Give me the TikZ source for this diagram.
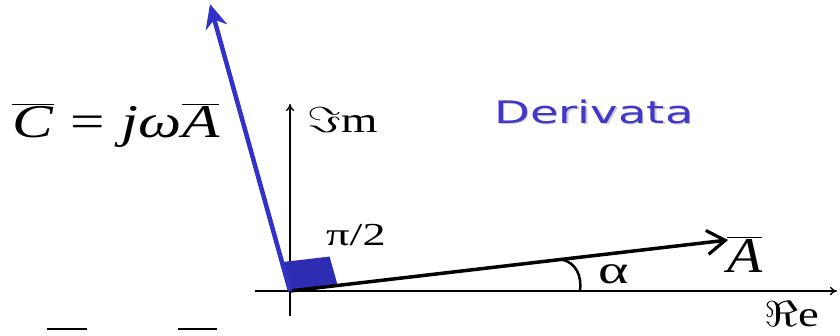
\RequirePackage{fix-cm}
\documentclass[tikz,border=0pt]{standalone}
\usepackage{fontspec}
\setmainfont{Liberation Serif}
\newfontfamily\derfont{DejaVu Sans}
\usetikzlibrary{arrows.meta,calc}
\definecolor{vblue}{RGB}{50,50,200}
\definecolor{sqblue}{RGB}{45,45,180}
\definecolor{dblue}{RGB}{65,55,200}
\newcommand{\wide}[2]{\scalebox{#1}[1]{#2}}
\tikzset{
  axis/.style={line width=1.4pt,-{To[length=7pt,width=8pt]}},
  vecA/.style={line width=3.5pt,-{Straight Barb[length=18pt,width=24pt,line width=3.2pt]}},
  vecC/.style={line width=4.5pt,vblue,-{Stealth[length=24pt,width=22pt]}},
  lbl/.style={inner sep=0pt,anchor=base west},
  frag/.style={line width=1.5pt}
}
\begin{document}
\begin{tikzpicture}[x=1pt,y=-1pt]
\useasboundingbox (0,0) rectangle (840,335);
\coordinate (O) at (290,291);
\coordinate (ReL) at (255,291);
\coordinate (ReR) at (837,291);
\coordinate (ImB) at (290,316);
\coordinate (ImT) at (290,104);
\coordinate (Atip) at (728,240);
\coordinate (Ctip) at (210,4);
% axes
\draw[axis] (ReL) -- (ReR);
\draw[axis] (ImB) -- (ImT);
% square
\coordinate (Q1) at ($(O)!48pt!(Atip)$);
\coordinate (Q3) at ($(O)!30pt!(Ctip)$);
\coordinate (Q2) at ($(Q1)+(Q3)-(O)$);
\fill[sqblue] (O) -- (Q1) -- (Q2) -- (Q3) -- cycle;
% vectors
\draw[vecA] (O) -- (Atip);
\draw[vecC] (O) -- (Ctip);
% alpha arc
\draw[line width=2.5pt] (561,259.5) .. controls (576,262) and (582,276) .. (580,291);
% labels
\node[lbl,font=\fontsize{47}{47}\selectfont] (Ceq) at (12,137)
  {\wide{1.3}{$\overline{\hbox{\itshape C\/}}\mathrel{\hbox{=}}\hbox{\itshape j\/ω}\overline{\hbox{\itshape A}}$}};
\node[lbl,font=\fontsize{36}{36}\selectfont] (Im) at (307,132) {\wide{1.3}{$\Im$m}};
\node[inner sep=0pt,anchor=base,font=\fontsize{31}{31}\selectfont\derfont,text=gray!40] at (595.5,124.5) {\wide{1.5}{Derivata}};
\node[inner sep=0pt,anchor=base,font=\fontsize{31}{31}\selectfont\derfont,text=dblue] (Der) at (594,123) {\wide{1.5}{Derivata}};
\node[lbl,font=\fontsize{32}{32}\selectfont] (pi) at (326,245) {\wide{1.45}{π/2}};
\node[lbl,font=\fontsize{40}{40}\selectfont] (al) at (598,283) {\wide{1.45}{α}};
\node[lbl,font=\fontsize{50}{50}\selectfont] (Alab) at (727,272) {\wide{1.15}{$\overline{\hbox{\itshape A}}$}};
\node[lbl,font=\fontsize{36}{36}\selectfont] (Re) at (764,326) {\wide{1.3}{$\Re$e}};
% cropped fragments at the bottom edge
\coordinate (f1a) at (47,329); \coordinate (f1b) at (87,329);
\coordinate (f2a) at (178,329); \coordinate (f2b) at (217,329);
\draw[frag] (f1a) -- (f1b);
\draw[frag] (f2a) -- (f2b);
\end{tikzpicture}
\end{document}
